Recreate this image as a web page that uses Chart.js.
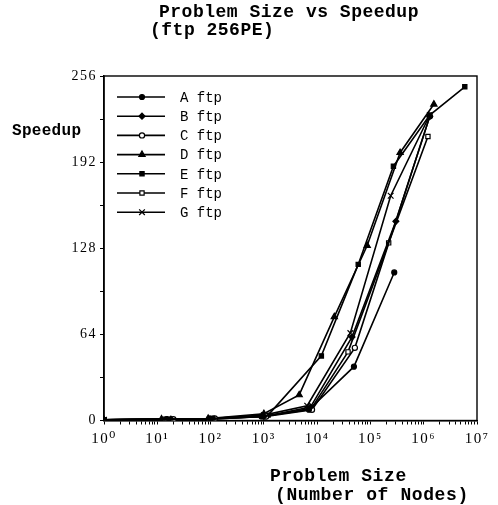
<!DOCTYPE html>
<html><head><meta charset="utf-8">
<script src="https://cdn.jsdelivr.net/npm/chart.js@4.4.1/dist/chart.umd.min.js"></script>
<style>html,body{margin:0;padding:0;background:#fff;}#wrap{width:498px;height:505px;}</style>
</head><body><div id="wrap"><canvas id="c" width="498" height="505"></canvas></div>
<script>
// ---- data ----
const seriesLabels = ['A ftp','B ftp','C ftp','D ftp','E ftp','F ftp','G ftp'];
const sizeA = [1, 15, 110, 900, 7000, 49000, 280000];
const speedA = [0.5, 1, 1.5, 3, 8, 40, 110];
const sizeB = [1, 18, 100, 1000, 7500, 45000, 300000, 1300000];
const speedB = [0.5, 1, 1, 3, 10, 62, 148, 226];
const sizeC = [1, 20, 120, 1100, 8000, 51000, 1300000];
const speedC = [0.5, 1, 1.5, 3, 8, 54, 226];
const sizeD = [1, 12, 90, 1000, 4600, 21000, 87000, 360000, 1550000];
const speedD = [0.5, 1, 1.5, 5, 19, 77, 130, 199, 235];
const sizeE = [1, 16, 100, 1200, 12000, 59000, 270000, 1300000, 5900000];
const speedE = [0.5, 1, 1.5, 4, 48, 116, 189, 227, 248];
const sizeF = [1, 14, 95, 1000, 7800, 38000, 220000, 1200000];
const speedF = [0.5, 1, 1, 3, 9, 51, 132, 211];
const sizeG = [1, 17, 105, 1000, 6500, 42000, 240000, 1300000];
const speedG = [0.5, 1, 1.5, 4, 11, 65, 167, 227];
const yTickValues = [0, 64, 128, 192, 256];
const xDecades = [0, 1, 2, 3, 4, 5, 6, 7];
const titleLines = ['Problem Size vs Speedup', '(ftp 256PE)'];
const yTitle = 'Speedup';
const xTitleLines = ['Problem Size', '(Number of Nodes)'];

const sup = {'0':'⁰','1':'¹','2':'²','3':'³','4':'⁴','5':'⁵','6':'⁶','7':'⁷','8':'⁸','9':'⁹'};
const pts = (xs, ys) => xs.map((x, i) => ({x, y: ys[i]}));
const styles = [
  {pointStyle:'circle', bg:'#000', r:2.5},
  {pointStyle:'rectRot', bg:'#000', r:3},
  {pointStyle:'circle', bg:'#fff', r:2.6},
  {pointStyle:'triangle', bg:'#000', r:3.6},
  {pointStyle:'rect', bg:'#000', r:3},
  {pointStyle:'rect', bg:'#fff', r:3},
  {pointStyle:'crossRot', bg:'#000', r:4}
];
const allData = [pts(sizeA,speedA),pts(sizeB,speedB),pts(sizeC,speedC),pts(sizeD,speedD),pts(sizeE,speedE),pts(sizeF,speedF),pts(sizeG,speedG)];
const datasets = allData.map((d, i) => ({
  label: seriesLabels[i], data: d,
  borderColor:'#000', borderWidth:1.6, backgroundColor: styles[i].bg,
  pointStyle: styles[i].pointStyle, pointRadius: styles[i].r,
  pointBorderColor:'#000', pointBorderWidth:1.2, pointBackgroundColor: styles[i].bg,
  fill:false, tension:0
}));

const decor = {
  id:'decor',
  beforeDraw(chart){
    chart.ctx.letterSpacing = '1.5px';
  },
  beforeDatasetsDraw(chart){
    const {ctx, chartArea:a} = chart;
    ctx.save();
    ctx.strokeStyle = '#000'; ctx.lineWidth = 1.4;
    ctx.strokeRect(a.left, a.top, a.right - a.left, a.bottom - a.top);
    ctx.restore();
  },
  afterDraw(chart){
    const {ctx} = chart;
    ctx.save();
    ctx.fillStyle = '#000';
    ctx.textBaseline = 'alphabetic';
    ctx.textAlign = 'left';
    // title
    ctx.font = 'bold 18px "Liberation Mono", "Courier New", monospace';
    ctx.letterSpacing = '0.5px';
    ctx.fillText(titleLines[0], 159, 17);
    ctx.fillText(titleLines[1], 150, 35);
    // y title
    ctx.font = 'bold 16px "Liberation Mono", "Courier New", monospace';
    ctx.letterSpacing = '0.3px';
    ctx.fillText(yTitle, 12, 135);
    // x title
    ctx.font = 'bold 18px "Liberation Mono", "Courier New", monospace';
    ctx.letterSpacing = '0.6px';
    ctx.fillText(xTitleLines[0], 270, 481);
    ctx.fillText(xTitleLines[1], 275, 500);
    // legend inside plot
    ctx.letterSpacing = '0px';
    ctx.font = '14px "Liberation Mono", "Courier New", monospace';
    const y0 = 97, dy = 19.2;
    chart.data.datasets.forEach((ds, i) => {
      const y = y0 + i*dy;
      ctx.strokeStyle = '#000'; ctx.lineWidth = 1.6;
      ctx.beginPath(); ctx.moveTo(117, y); ctx.lineTo(165, y); ctx.stroke();
      ctx.fillStyle = ds.pointBackgroundColor; ctx.strokeStyle = '#000'; ctx.lineWidth = 1.2;
      Chart.helpers.drawPoint(ctx, {pointStyle: ds.pointStyle, radius: ds.pointRadius, borderWidth: 1.2, rotation: 0}, 142, y);
      ctx.fillStyle = '#000';
      ctx.textBaseline = 'middle';
      ctx.fillText(ds.label, 180, y + 1);
    });
    ctx.restore();
  }
};

new Chart(document.getElementById('c'), {
  type:'line',
  data:{datasets},
  options:{
    responsive:false, animation:false, devicePixelRatio:1,
    layout:{padding:{top:76, right:21, left:0, bottom:0}},
    plugins:{legend:{display:false}, title:{display:false}, tooltip:{enabled:false}},
    scales:{
      x:{
        type:'logarithmic', min:1, max:1e7,
        afterFit(s){ s.height = 84.5; },
        border:{color:'#000', width:1.5},
        grid:{drawOnChartArea:false, drawTicks:true, tickLength:4, color:'#000', lineWidth:1},
        afterBuildTicks(s){
          const t = [];
          for (const d of xDecades) {
            t.push({value: Math.pow(10, d)});
            if (d < 7) for (let m = 2; m <= 9; m++) t.push({value: m*Math.pow(10, d)});
          }
          s.ticks = t;
        },
        ticks:{
          autoSkip:false, maxRotation:0, minRotation:0, padding:6, color:'#000',
          font:{family:'"Liberation Serif", "DejaVu Serif", serif', size:15},
          callback(v){
            const l = Math.log10(v);
            if (Math.abs(l - Math.round(l)) < 1e-9) return '10' + String(Math.round(l)).split('').map(c=>sup[c]).join('');
            return '';
          }
        }
      },
      y:{
        type:'linear', min:0, max:256,
        afterFit(s){ s.width = 104; },
        border:{color:'#000', width:1.5},
        grid:{drawOnChartArea:false, drawTicks:true, tickLength:4, color:'#000'},
        ticks:{
          stepSize:32, padding:3, color:'#000',
          font:{family:'"Liberation Serif", "DejaVu Serif", serif', size:14},
          callback(v){ return yTickValues.includes(v) ? String(v) : ''; }
        }
      }
    }
  },
  plugins:[decor]
});
</script></body></html>
